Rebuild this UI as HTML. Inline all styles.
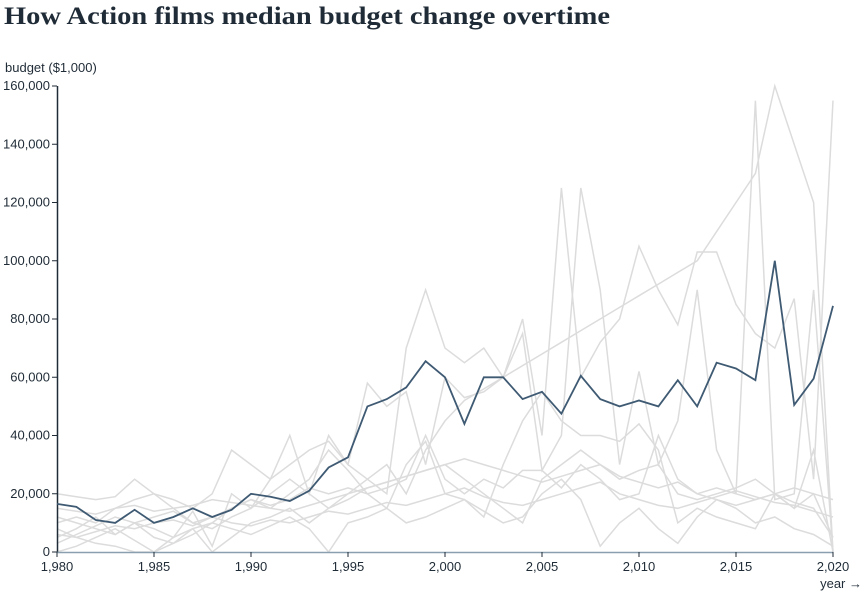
<!DOCTYPE html>
<html><head><meta charset="utf-8"><style>
body{margin:0;background:#fff;width:868px;height:599px;overflow:hidden}
svg text{font-family:"Liberation Sans",sans-serif;fill:#1f2b36}
</style></head><body>
<svg width="868" height="599">
<text x="4" y="24" textLength="606" lengthAdjust="spacingAndGlyphs" style="font-family:'Liberation Serif',serif;font-weight:bold;font-size:25px">How Action films median budget change overtime</text>
<text x="5" y="72" font-size="13">budget ($1,000)</text>
<text x="862" y="588" font-size="13" text-anchor="end">year →</text>
<g id="grays"></g>
<g id="axes"></g>
<path id="main" fill="none" stroke="#3f5a73" stroke-width="1.8"/>
</svg>
<script>
const years=[];for(let y=1980;y<=2020;y++)years.push(y);
const median=[16500,15500,11000,10000,14500,10000,12000,15000,12000,14500,20000,19000,17500,21000,29000,32500,50000,52500,56500,65500,60000,44000,60000,60000,52500,55000,47500,60500,52500,50000,52000,50000,59000,50000,65000,63000,59000,100000,50500,59500,84500];
const gray1=[20000,19000,18000,19000,25000,20000,18000,15000,20000,35000,30000,25000,40000,20000,40000,30000,25000,20000,70000,90000,70000,65000,70000,60000,80000,40000,125000,60000,72000,80000,105000,90000,78000,103000,103000,85000,75000,70000,87000,25000,155000];
const gray2=[5000,8000,12000,6000,10000,8000,5000,14000,2000,20000,15000,25000,30000,35000,38000,30000,58000,50000,55000,30000,60000,53000,55000,60000,75000,28000,40000,125000,90000,30000,62000,30000,45000,90000,35000,20000,155000,18000,20000,90000,0];
const gray3=[10000,12000,10000,15000,18000,20000,15000,10000,12000,15000,18000,16000,18000,22000,20000,22000,20000,22000,25000,40000,25000,20000,25000,22000,28000,28000,22000,30000,25000,18000,20000,40000,25000,20000,22000,20000,18000,20000,15000,20000,5000];
const gray4=[8000,5000,3000,2000,0,0,5000,8000,0,5000,10000,12000,15000,10000,15000,20000,25000,30000,20000,35000,45000,52000,56000,60000,64000,68000,72000,76000,80000,84000,88000,92000,96000,100000,110000,120000,130000,160000,140000,120000,0];
const gray5=[12000,10000,8000,6000,10000,12000,14000,10000,8000,12000,15000,20000,25000,20000,15000,18000,22000,24000,26000,28000,30000,25000,20000,15000,10000,25000,30000,35000,30000,25000,28000,30000,20000,18000,20000,22000,25000,20000,15000,35000,0];
const gray6=[3000,6000,9000,12000,10000,5000,3000,8000,10000,15000,18000,15000,20000,25000,35000,28000,20000,15000,30000,38000,20000,18000,12000,30000,45000,55000,45000,40000,40000,38000,44000,35000,10000,15000,12000,10000,8000,20000,17000,15000,5000];
const gray7=[15000,14000,13000,15000,16000,14000,15000,16000,18000,17000,16000,15000,14000,16000,18000,20000,22000,24000,26000,28000,30000,32000,30000,28000,26000,24000,26000,28000,30000,26000,24000,22000,24000,20000,18000,16000,18000,20000,22000,20000,18000];
const gray8=[0,2000,5000,8000,4000,0,3000,6000,10000,8000,6000,9000,12000,8000,0,10000,12000,15000,10000,12000,15000,18000,14000,10000,12000,20000,25000,18000,2000,10000,15000,8000,3000,12000,18000,15000,10000,12000,8000,6000,2000];
const gray9=[6000,5000,7000,9000,8000,10000,11000,9000,12000,10000,9000,11000,10000,12000,14000,13000,15000,17000,16000,18000,20000,22000,19000,17000,16000,18000,20000,22000,24000,20000,18000,16000,15000,17000,19000,21000,19000,17000,16000,14000,12000];
const grays=[gray1,gray2,gray3,gray4,gray5,gray6,gray7,gray8,gray9];
const yTicks=[0,20000,40000,60000,80000,100000,120000,140000,160000];
const xTicks=[1980,1985,1990,1995,2000,2005,2010,2015,2020];
const X=v=>57+(v-1980)/40*776, Y=v=>552-v/160000*466;
const ns="http://www.w3.org/2000/svg";
function path(arr){return arr.map((v,i)=>(i?'L':'M')+X(years[i]).toFixed(1)+','+Y(v).toFixed(1)).join('');}
const gg=document.getElementById('grays');
grays.forEach((s,i)=>{const p=document.createElementNS(ns,'path');


p.setAttribute('d',path(s));p.setAttribute('fill','none');p.setAttribute('stroke','#dcdcdc');p.setAttribute('stroke-width','1.5');gg.appendChild(p);});
document.getElementById('main').setAttribute('d',path(median));
const ax=document.getElementById('axes');
function el(t,a){const e=document.createElementNS(ns,t);for(const k in a)e.setAttribute(k,a[k]);ax.appendChild(e);return e;}
let l=el('line',{x1:57.5,x2:57.5,y1:86,y2:552,stroke:'#1f2b36','stroke-width':1.5});


l=el('line',{x1:57,x2:833,y1:552.5,y2:552.5,stroke:'#8aa0b0','stroke-width':1.5});


yTicks.forEach(v=>{el('line',{x1:52,x2:57,y1:Y(v),y2:Y(v),stroke:'#1f2b36'});
const t=el('text',{x:50,y:Y(v)+4,'font-size':13,'text-anchor':'end'});t.textContent=v.toLocaleString('en-US');

});
xTicks.forEach(v=>{el('line',{x1:X(v),x2:X(v),y1:552,y2:557,stroke:'#1f2b36'});
const t=el('text',{x:X(v),y:571,'font-size':13,'text-anchor':'middle'});t.textContent=v.toLocaleString('en-US');

});
</script>
</body></html>
